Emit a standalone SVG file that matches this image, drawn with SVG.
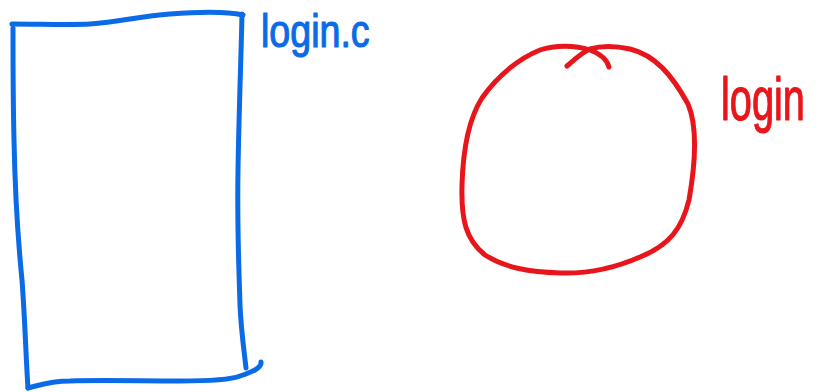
<svg xmlns="http://www.w3.org/2000/svg" width="816" height="392" viewBox="0 0 816 392">
  <style>
    .pen { fill: none; stroke-width: 5; stroke-linecap: round; stroke-linejoin: round; }
    .blue { stroke: #0b6be6; }
    .red { stroke: #e8161b; }
    .hand { font-family: "Liberation Sans", "DejaVu Sans", sans-serif; stroke-width: 1.2; stroke-linejoin: round; }
  </style>
  <rect width="816" height="392" fill="#ffffff"/>

  <!-- source file: tall hand-drawn rectangle -->
  <g id="file-login-c">
    <path class="pen blue" d="M12,24 C40,24 70,25 90,24 C120,22 140,16 170,14 C195,12 225,11 243,15"/>
    <path class="pen blue" d="M242,14 C241,60 239,110 238,170 C237,230 239,270 240,305 C241,330 244,350 246,368"/>
    <path class="pen blue" d="M13,28 C13,60 13,100 14,140 C15,190 18,240 22,280 C25,320 26,360 28,388"/>
    <path class="pen blue" d="M28,388 C40,385 50,381 70,381 C100,380 140,381 180,381 C210,381 230,380 240,376 C252,372 262,368 261,362"/>
    <text class="hand" transform="translate(261 47) scale(0.8 1)" font-size="47" fill="#0b6be6" stroke="#0b6be6">login.c</text>
  </g>

  <!-- program: hand-drawn loop -->
  <g id="program-login">
    <path class="pen red" d="M567,66 C574,60 581,53 590,49 C600,46 612,45 630,49 C655,55 672,75 688,104 C697,125 696,160 689,200 C682,228 670,245 640,257 C615,268 590,274 560,273 C530,272 505,268 485,255 C466,240 461,220 462,185 C463,150 468,120 482,98 C498,75 520,58 540,50 C555,45 575,45 590,50 C601,54 607,60 609,67"/>
    <text class="hand" transform="translate(721 120) scale(0.64 1)" font-size="62" fill="#e8161b" stroke="#e8161b">login</text>
  </g>
</svg>
